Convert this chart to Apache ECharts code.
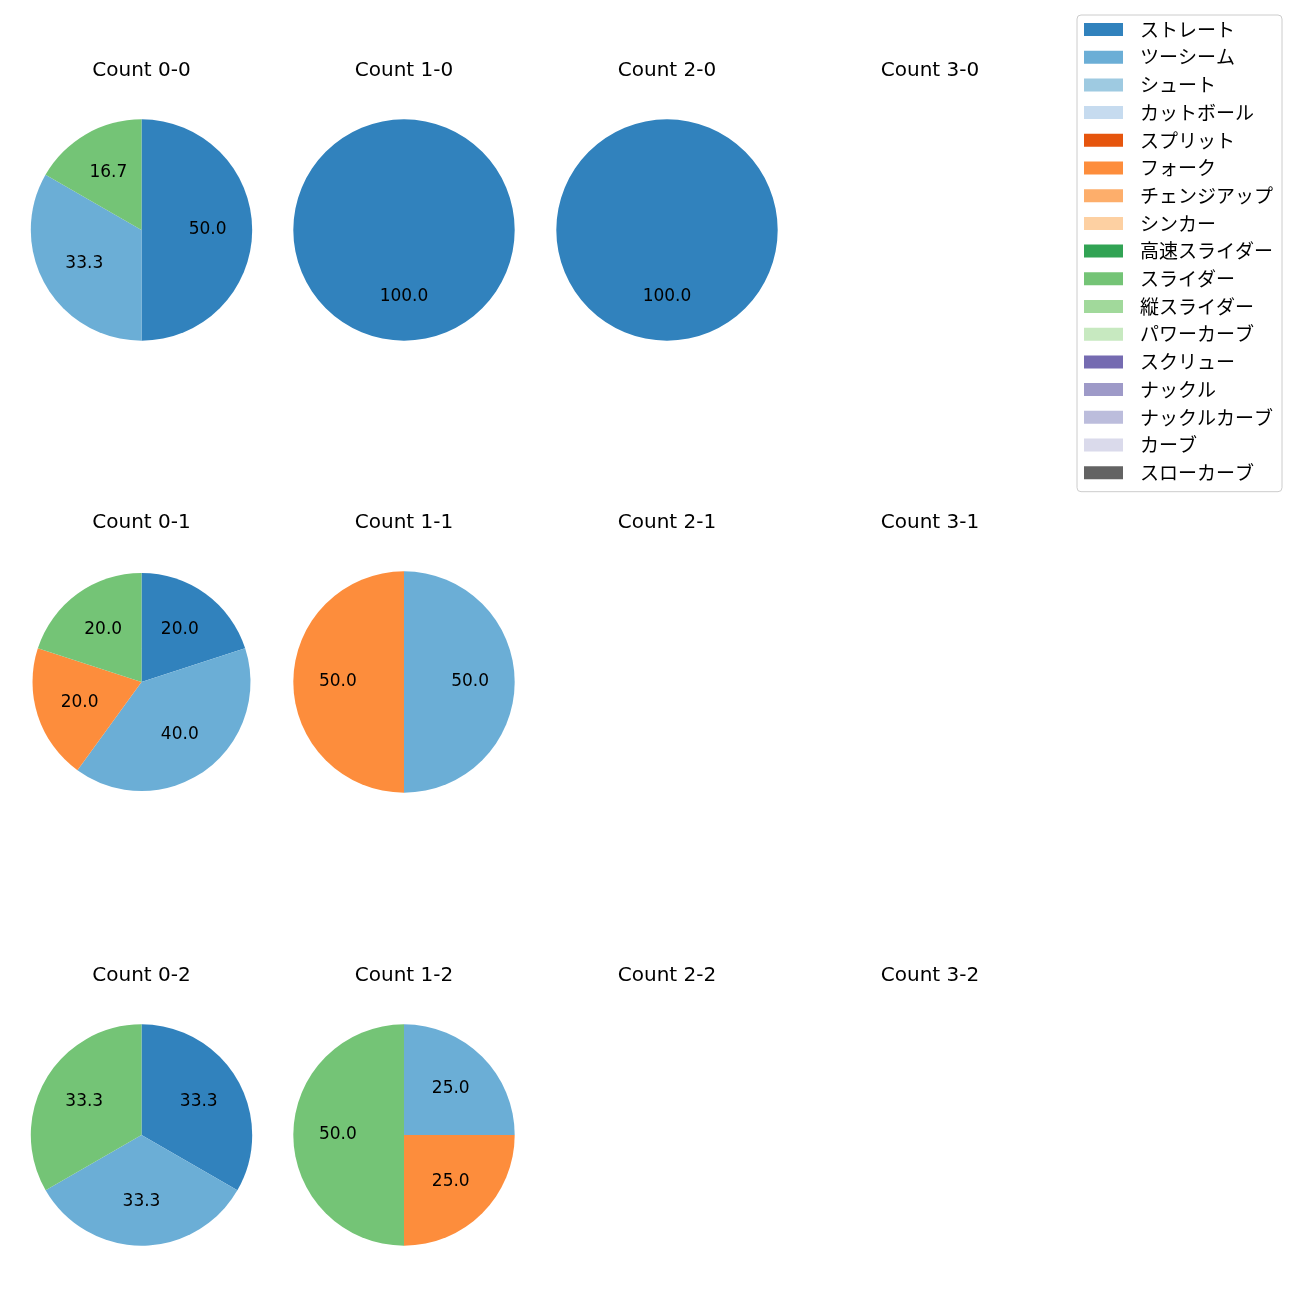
<!DOCTYPE html>
<html><head><meta charset="utf-8">
<script src="https://cdn.jsdelivr.net/npm/echarts@6/dist/echarts.min.js"></script>
<style>html,body{margin:0;padding:0;background:#fff}#c{width:1300px;height:1300px}</style>
</head><body><div id="c"></div>
<script>
const pitchTypes = ['ストレート','ツーシーム','シュート','カットボール','スプリット','フォーク','チェンジアップ','シンカー','高速スライダー','スライダー','縦スライダー','パワーカーブ','スクリュー','ナックル','ナックルカーブ','カーブ','スローカーブ'];
const pitchColors = ['#3182bd','#6baed6','#9ecae1','#c6dbef','#e6550d','#fd8d3c','#fdae6b','#fdd0a2','#31a354','#74c476','#a1d99b','#c7e9c0','#756bb1','#9e9ac8','#bcbddc','#dadaeb','#636363'];
const panelTitles = ['Count 0-0','Count 1-0','Count 2-0','Count 3-0','Count 0-1','Count 1-1','Count 2-1','Count 3-1','Count 0-2','Count 1-2','Count 2-2','Count 3-2'];
// percentages per panel: [pitch name, value]
const count00 = [['ストレート',50.0],['ツーシーム',33.3],['スライダー',16.7]];
const count10 = [['ストレート',100.0]];
const count20 = [['ストレート',100.0]];
const count30 = [];
const count01 = [['ストレート',20.0],['ツーシーム',40.0],['フォーク',20.0],['スライダー',20.0]];
const count11 = [['ツーシーム',50.0],['フォーク',50.0]];
const count21 = [];
const count31 = [];
const count02 = [['ストレート',33.3],['ツーシーム',33.3],['スライダー',33.3]];
const count12 = [['ツーシーム',25.0],['フォーク',25.0],['スライダー',50.0]];
const count22 = [];
const count32 = [];
const panels = [count00,count10,count20,count30,count01,count11,count21,count31,count02,count12,count22,count32];

const FONT_JP = '"Noto Sans CJK JP", "Noto Sans", sans-serif';
const FONT_LAT = '"DejaVu Sans", sans-serif';
const colX = [141.5, 404, 667, 930];
const rowY = [230, 682, 1135];
const radii = [110.7,110.7,110.7,110.7, 109,110.7,110.7,110.7, 110.7,110.7,110.7,110.7];

const series = [];
const titles = [];
panels.forEach((p, i) => {
  const cx = colX[i % 4], cy = rowY[Math.floor(i / 4)];
  const R = radii[i];
  titles.push({text: panelTitles[i], left: cx, top: cy - 169.5, textAlign: 'center', padding: 0,
    textStyle: {fontFamily: FONT_LAT, fontSize: 20, fontWeight: 'normal', color: '#000'}});
  if (!p.length) return;
  const data = p.map(([n, v]) => ({name: n, value: v, itemStyle: {color: pitchColors[pitchTypes.indexOf(n)]}}));
  series.push({type: 'pie', center: [cx, cy], radius: [0, R], startAngle: 90, clockwise: true,
    animation: false, silent: true, label: {show: false}, labelLine: {show: false},
    itemStyle: {borderWidth: 0}, data: data});
  series.push({type: 'pie', center: [cx, cy], radius: [R * 0.14, R], startAngle: 90, clockwise: true,
    animation: false, silent: true, legendHoverLink: false,
    label: {show: true, position: 'inside', formatter: (d) => d.value.toFixed(1),
      fontFamily: FONT_LAT, fontSize: 17, color: '#000'},
    labelLine: {show: false},
    itemStyle: {color: 'rgba(0,0,0,0)', borderWidth: 0},
    data: p.map(([n, v]) => ({name: n + ' ', value: v}))});
});
// zero-size series to give legend entries for all pitch types
series.push({type: 'pie', radius: 0, center: [-100, -100], silent: true, animation: false,
  label: {show: false}, data: pitchTypes.map((n, k) => ({name: n, value: 0, itemStyle: {color: pitchColors[k]}}))});

const chart = echarts.init(document.getElementById('c'), null, {renderer: 'canvas'});
chart.setOption({
  animation: false,
  title: titles,
  legend: {data: pitchTypes, orient: 'vertical', left: 1077, top: 15,
    itemWidth: 39, itemHeight: 13, itemGap: 8.7, icon: 'rect',
    padding: [5, 9, 9.5, 7], borderColor: '#cccccc', borderWidth: 1, borderRadius: 4,
    textStyle: {fontFamily: FONT_JP, fontSize: 19, color: '#000', padding: [0, 0, 0, 12]},
    selectedMode: false},
  series: series
});
</script></body></html>
